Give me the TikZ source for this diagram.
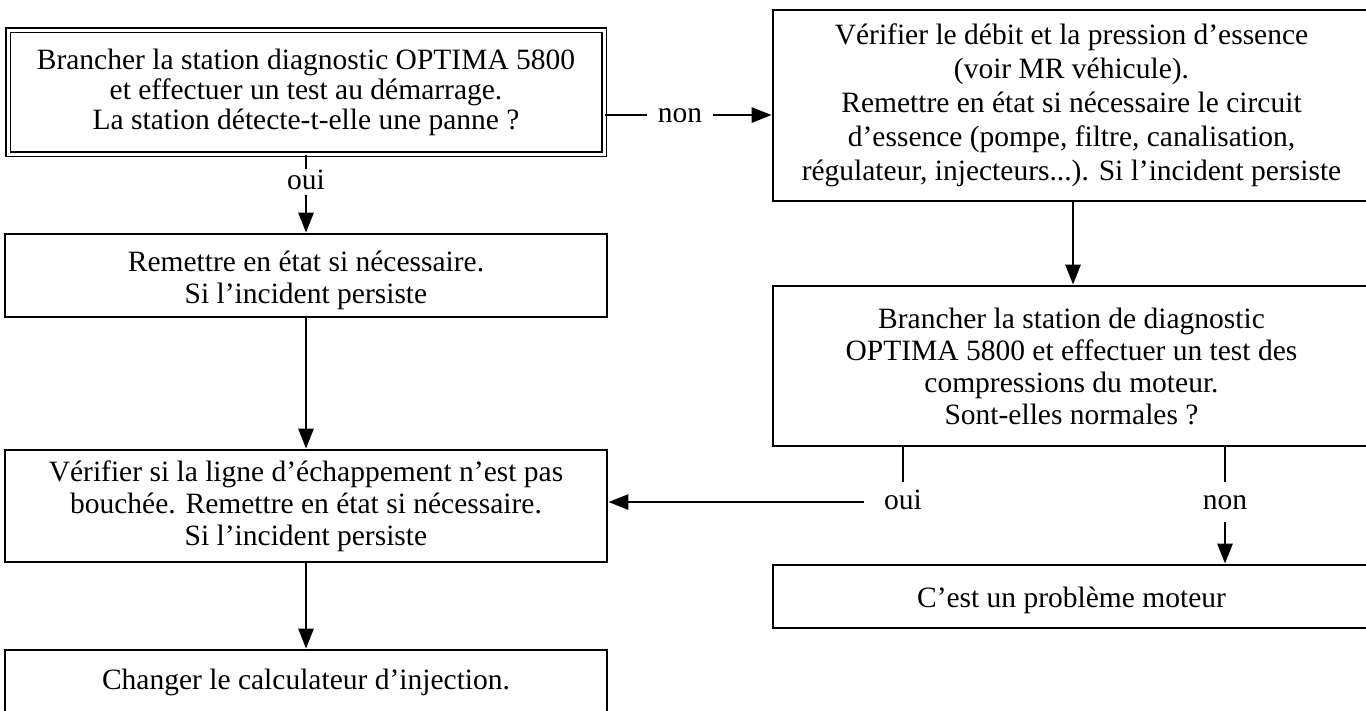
\documentclass[tikz,border=0pt]{standalone}
\usepackage{fontspec}
\setmainfont{Liberation Serif}
\usetikzlibrary{arrows.meta}
\begin{document}
\begin{tikzpicture}[x=1pt,y=-1pt,
  txt/.style={font=\fontsize{29.5}{32}\selectfont},
  box/.style={txt, draw, line width=2.8pt, rectangle, inner sep=0pt, align=center},
  dbox/.style={txt, draw, line width=1.8pt, double, double distance=3pt, rectangle, inner sep=0pt, align=center},
  lbl/.style={txt, anchor=base, text height=14pt, text depth=0pt, inner xsep=12pt, inner ysep=6pt},
  conn/.style={line width=2.8pt},
  arr/.style={conn, -{Triangle[length=20pt,width=15pt]}}]
\clip (0,0) rectangle (1366,710);
\fill[white] (0,0) rectangle (1366,710);

\node[dbox, minimum width=596pt, minimum height=124pt,
      font=\fontsize{29.5}{30}\selectfont] (A) at (306,92)
  {Brancher la station diagnostic OPTIMA 5800\\ et effectuer un test au démarrage.\\ La station détecte-t-elle une panne ?};
\node[box, minimum width=597pt, minimum height=191pt,
      font=\fontsize{29.5}{34}\selectfont] (B) at (1071.5,105.5)
  {Vérifier le débit et la pression d’essence\\ (voir MR véhicule).\\ Remettre en état si nécessaire le circuit\\ d’essence (pompe, filtre, canalisation,\\ régulateur, injecteurs...). Si l’incident persiste};
\node[box, minimum width=597pt, minimum height=160pt] (C) at (1071.5,366)
  {Brancher la station de diagnostic\\ OPTIMA 5800 et effectuer un test des\\ compressions du moteur.\\ Sont-elles normales ?};
\node[box, minimum width=597pt, minimum height=63pt] (E) at (1071.5,596.5)
  {\rule{0pt}{29pt}C’est un problème moteur};
\node[box, minimum width=602pt, minimum height=83pt] (G) at (306,275.5)
  {\rule{0pt}{31pt}Remettre en état si nécessaire.\\ Si l’incident persiste};
\node[box, minimum width=602pt, minimum height=112pt] (D) at (306,506)
  {Vérifier si la ligne d’échappement n’est pas\\ bouchée. Remettre en état si nécessaire.\\ Si l’incident persiste};
\node[box, minimum width=602pt, minimum height=64pt] (F) at (306,682)
  {Changer le calculateur d’injection.};

\node[lbl, inner xsep=11pt] (nonA) at (680,122) {non};
\node[lbl] (ouiA) at (306,189) {oui};
\node[lbl, inner xsep=20pt, inner ysep=13pt] (ouiC) at (903,509) {oui};
\node[lbl, inner ysep=13pt] (nonC) at (1225,509) {non};

\draw[conn] (nonA.west -| A.east) -- (nonA.west);
\draw[arr] (nonA.east) -- (nonA.east -| B.west);
\draw[conn] (A.south -| ouiA) -- (ouiA.north);
\draw[arr] (ouiA.south) -- (G.north);
\draw[arr] (G.south) -- (D.north);
\draw[arr] (D.south) -- (F.north);
\draw[arr] (B.south -| 1073,0) -- (C.north -| 1073,0);
\draw[conn] (C.south -| ouiC) -- (ouiC.north);
\draw[arr] (ouiC.west) -- (ouiC.west -| D.east);
\draw[conn] (C.south -| nonC) -- (nonC.north);
\draw[arr] (nonC.south) -- (E.north -| nonC);
\end{tikzpicture}
\end{document}
